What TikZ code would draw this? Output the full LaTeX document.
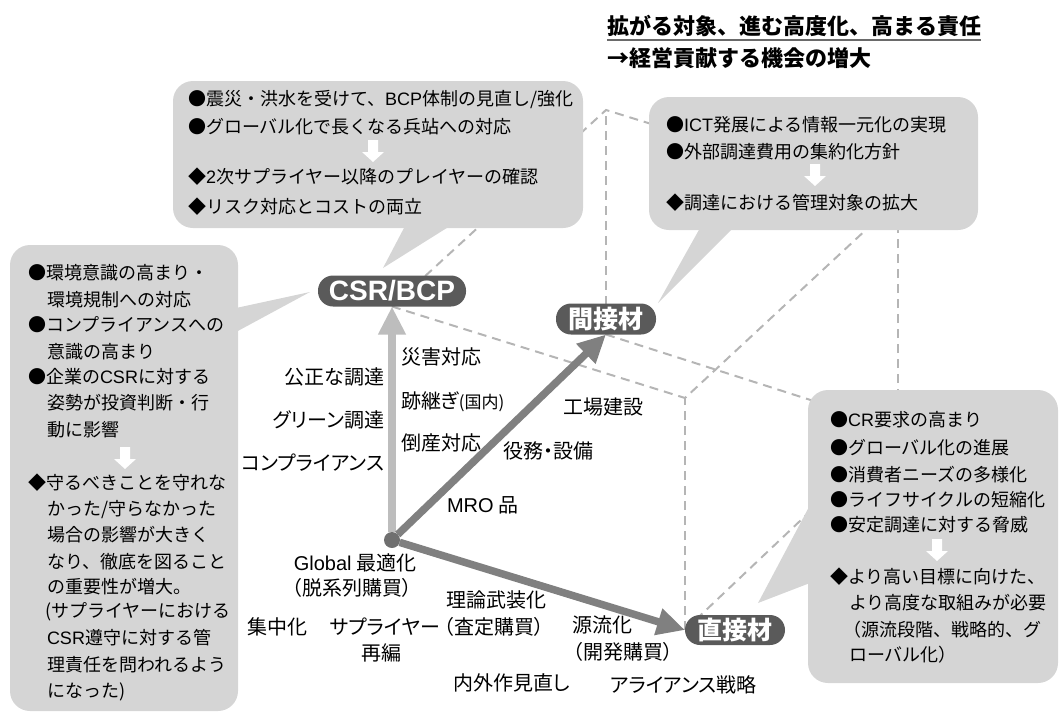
\documentclass[tikz,border=0pt]{standalone}
\usepackage{fontspec}
\setmainfont{Noto Sans CJK JP}
\newfontfamily\jpp[RawFeature=+palt]{Noto Sans CJK JP}
\newfontfamily\lat{Liberation Sans}
\usetikzlibrary{arrows.meta}
\pgfdeclarelayer{bg}
\pgfsetlayers{bg,main}
\definecolor{callbg}{HTML}{D5D5D5}
\definecolor{pillbg}{HTML}{5A5A5A}
\definecolor{dashc}{HTML}{B5B5B5}
\definecolor{arrlight}{HTML}{BDBDBD}
\definecolor{arrdark}{HTML}{808080}
\definecolor{dotc}{HTML}{6F6F6F}
\definecolor{ulc}{HTML}{6A6A6A}
\begin{document}
\begin{tikzpicture}[x=1pt,y=-1pt,
  every node/.style={inner sep=0pt, outer sep=0pt},
  ctext/.style={font=\fontsize{18}{22}\selectfont, anchor=west},
  lbl/.style={font=\jpp\fontsize{20}{24}\selectfont},
  pill/.style={fill=pillbg, text=white, rounded corners=15pt, minimum height=31pt, font=\bfseries\fontsize{25}{28}\selectfont},
  cube/.style={draw=dashc, line width=2pt, dash pattern=on 9pt off 6pt},
  callout/.style={fill=callbg},
  axis/.style={line width=7.5pt, -{Triangle[length=28pt,width=26pt]}},
  downarr/.pic={\fill[white] (-5,0) -- (5,0) -- (5,12) -- (11,12) -- (0,22) -- (-11,12) -- (-5,12) -- cycle;},
]
\useasboundingbox (0,0) rectangle (1062,715);

% title
\node[anchor=west, font=\bfseries\fontsize{22}{26}\selectfont] (t1) at (607,26) {拡がる対象、進む高度化、高まる責任};
\node[anchor=west, font=\bfseries\fontsize{22}{26}\selectfont] (t2) at (607,58) {→経営貢献する機会の増大};
\draw[ulc, line width=2pt] ([yshift=-3pt]t1.south west) -- ([yshift=-3pt]t1.south east);

% pills and origin
\node[pill, minimum width=148pt, font=\bfseries\lat\fontsize{28}{30}\selectfont] (csr) at (392,291) {CSR/BCP};
\node[pill, minimum width=100pt] (ind) at (606,319) {間接材};
\node[pill, minimum width=100pt, minimum height=30pt] (dir) at (735,630) {直接材};
\node[circle, fill=dotc, minimum size=16pt] (o) at (392,540) {};

\draw[axis, arrlight] (o) -- (csr.south);
\draw[axis, arrdark] (o) -- (ind.south);
\draw[axis, arrdark] (o) -- (dir.west);

\coordinate (AB) at (606,110);
\coordinate (AC) at (685,398);
\coordinate (BC) at (898,428);
\coordinate (ABC) at (898,200);

\begin{pgfonlayer}{bg}
\draw[cube] (csr.south) -- (AB) -- (ABC) -- (AC) -- (csr.south);
\draw[cube] (ind.south) -- (AB);
\draw[cube] (ind.south) -- (BC);
\draw[cube] (dir.west) -- (AC);
\draw[cube] (dir.west) -- (BC);
\draw[cube] (BC) -- (ABC);
% callouts
\fill[callout, rounded corners=20pt] (173,81) rectangle (583,228);
\fill[callout] (405,226) -- (450,226) -- (383,268) -- cycle;
\fill[callout, rounded corners=20pt] (649,97) rectangle (978,230);
\fill[callout] (700,228) -- (733,228) -- (658,303) -- cycle;
\fill[callout, rounded corners=20pt] (10,245) rectangle (238,711);
\fill[callout] (236,308) -- (236,332) -- (310,292) -- cycle;
\fill[callout, rounded corners=20pt] (808,390) rectangle (1058,683);
\fill[callout] (810,505) -- (810,583) -- (758,603) -- cycle;
\end{pgfonlayer}

% top-left callout text
\node[ctext] (a1) at (188,100) {●震災・洪水を受けて、{\lat BCP}体制の見直し/強化};
\node[ctext] (a2) at (188,127) {●グローバル化で長くなる兵站への対応};
\pic at (373,140) {downarr};
\node[ctext] (a3) at (188,177) {◆{\lat 2}次サプライヤー以降のプレイヤーの確認};
\node[ctext] (a4) at (188,207) {◆リスク対応とコストの両立};

% top-right callout text
\node[ctext] (b1) at (666,125) {●{\lat ICT}発展による情報一元化の実現};
\node[ctext] (b2) at (666,152) {●外部調達費用の集約化方針};
\pic at (815,164) {downarr};
\node[ctext] (b3) at (666,203) {◆調達における管理対象の拡大};

% left callout text
\node[ctext] (c1) at (28,273) {●環境意識の高まり・};
\node[ctext] (c2) at (47,300) {環境規制への対応};
\node[ctext] (c3) at (28,325) {●コンプライアンスへの};
\node[ctext] (c4) at (47,352) {意識の高まり};
\node[ctext] (c5) at (28,377) {●企業の{\lat CSR}に対する};
\node[ctext] (c6) at (47,403) {姿勢が投資判断・行};
\node[ctext] (c7) at (47,430) {動に影響};
\pic at (125,447) {downarr};
\node[ctext] (c8) at (28,483) {◆守るべきことを守れな};
\node[ctext] (c9) at (47,510) {かった/守らなかった};
\node[ctext] (c10) at (47,535) {場合の影響が大きく};
\node[ctext] (c11) at (47,562) {なり、徹底を図ること};
\node[ctext] (c12) at (47,587) {の重要性が増大。};
\node[ctext] (c13) at (45,612) {(サプライヤーにおける};
\node[ctext] (c14) at (47,638) {{\lat CSR}遵守に対する管};
\node[ctext] (c15) at (47,665) {理責任を問われるよう};
\node[ctext] (c16) at (47,692) {になった)};

% right callout text
\node[ctext] (d1) at (830,420) {●{\lat CR}要求の高まり};
\node[ctext] (d2) at (830,448) {●グローバル化の進展};
\node[ctext] (d3) at (830,475) {●消費者ニーズの多様化};
\node[ctext] (d4) at (830,500) {●ライフサイクルの短縮化};
\node[ctext] (d5) at (830,525) {●安定調達に対する脅威};
\pic at (937,539) {downarr};
\node[ctext] (d6) at (830,577) {◆より高い目標に向けた、};
\node[ctext] (d7) at (849,603) {より高度な取組みが必要};
\node[ctext] (d8) at (843,630) {（源流段階、戦略的、グ};
\node[ctext] (d9) at (849,655) {ローバル化）};

% axis labels
\node[lbl, anchor=west] (e1) at (401,357) {災害対応};
\node[lbl, anchor=east] (e2) at (384,377) {公正な調達};
\node[lbl, anchor=west] (e3) at (401,402) {跡継ぎ{\fontsize{17}{20}\selectfont(国内)}};
\node[lbl, anchor=east] (e4) at (384,420) {グリーン調達};
\node[lbl, anchor=west] (e5) at (401,443) {倒産対応};
\node[lbl, anchor=east] (e6) at (384,463) {コンプライアンス};
\node[lbl, anchor=west] (e7) at (503,451) {役務・設備};
\node[lbl, anchor=west] (e8) at (563,407) {工場建設};
\node[lbl, anchor=west] (e9) at (447,505) {{\lat MRO} 品};
\node[lbl] (e10) at (355,563) {{\lat Global} 最適化};
\node[lbl] (e11) at (352,588) {（脱系列購買）};
\node[lbl] (e12) at (496,600) {理論武装化};
\node[lbl] (e13) at (494,627) {（査定購買）};
\node[lbl, anchor=west] (e14) at (247,627) {集中化};
\node[lbl, anchor=west] (e15) at (330,627) {サプライヤー};
\node[lbl] (e16) at (381,653) {再編};
\node[lbl, anchor=west] (e17) at (572,625) {源流化};
\node[lbl, anchor=west] (e18) at (573,652) {（開発購買）};
\node[lbl, anchor=west] (e19) at (453,683) {内外作見直し};
\node[lbl, anchor=west] (e20) at (610,685) {アライアンス戦略};
\end{tikzpicture}
\end{document}
